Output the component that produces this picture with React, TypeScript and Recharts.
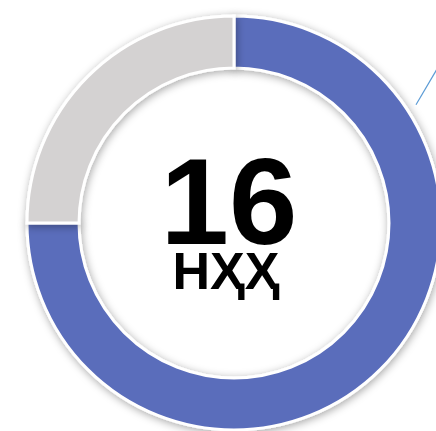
import React from "react";
import { PieChart, Pie, Cell } from "recharts";

const categories = ["НҲҲ", "Қолган"];
const values = [12, 4];
const colors = ["#5A6DBB", "#D4D2D2"];
const centerValue = "16";
const centerLabel = "НҲҲ";

const data = categories.map((name, i) => ({ name, value: values[i] }));

const RAD = Math.PI / 180;

const renderLabel = (props: any) => {
  const { cx, cy, outerRadius, index } = props;
  if (index !== 0) return null;
  const a1 = 33 * RAD;
  const r1 = outerRadius + 10;
  const x1 = cx + r1 * Math.cos(a1);
  const y1 = cy - r1 * Math.sin(a1);
  const x2 = x1 + 27;
  const y2 = y1 - 46;
  return (
    <g>
      <line x1={x1} y1={y1} x2={x2} y2={y2} stroke="#5B9BD5" strokeWidth={1.2} />
      <text x={cx - 5} y={cy + 21} textAnchor="middle" fontFamily="Liberation Sans, Arial, sans-serif" fontWeight="bold" fontSize={123} fill="#000">
        {centerValue}
      </text>
      <text x={cx - 8} y={cy + 66} textAnchor="middle" fontFamily="Liberation Sans, Arial, DejaVu Sans, sans-serif" fontWeight="bold" fontSize={52} fill="#000">
        {centerLabel}
      </text>
    </g>
  );
};

export default function App() {
  return (
    <div style={{ position: "fixed", left: 0, top: 0, width: 436, height: 431, background: "#fff", overflow: "hidden" }}>
      <PieChart width={436} height={431}>
        <defs>
          <filter id="ringShadow" x="-20%" y="-20%" width="140%" height="140%">
            <feDropShadow dx="1" dy="2" stdDeviation="4" floodColor="#000" floodOpacity="0.35" />
          </filter>
        </defs>
        <Pie
          data={data}
          dataKey="value"
          nameKey="name"
          cx={229}
          cy={218}
          innerRadius={155}
          outerRadius={207}
          startAngle={90}
          endAngle={-270}
          stroke="#fff"
          strokeWidth={3}
          isAnimationActive={false}
          label={renderLabel}
          labelLine={false}
        >
          {data.map((d, i) => (
            <Cell key={d.name} fill={colors[i]} filter="url(#ringShadow)" />
          ))}
        </Pie>
      </PieChart>
    </div>
  );
}
